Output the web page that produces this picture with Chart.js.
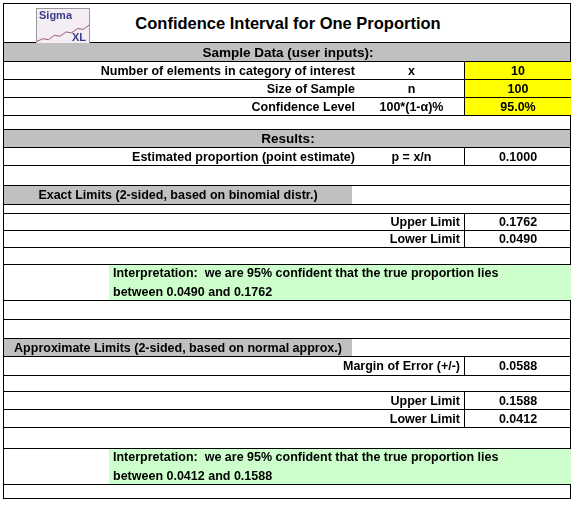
<!DOCTYPE html>
<html><head><meta charset="utf-8">
<script src="https://cdn.jsdelivr.net/npm/chart.js@4"></script>
<style>
body{margin:0;background:#fff;font-family:"Liberation Sans",Arial,sans-serif;font-weight:bold;font-size:12.5px;color:#000}
#sheet{position:absolute;left:3px;top:3px;width:568px;height:496px;border:1px solid #000;box-sizing:border-box}
.row{position:absolute;left:0;width:100%;border-bottom:1px solid #000;box-sizing:border-box}
.c{position:absolute;top:0;height:100%;display:flex;align-items:center;box-sizing:border-box}
.r{justify-content:flex-end;padding-right:4px}
.m{justify-content:center}
.gray{background:#c0c0c0}
.yel{background:#ffff00;border-left:1px solid #000}
.box{border-left:1px solid #000}
.green{background:#ccffcc;align-items:flex-start;flex-direction:column;justify-content:center;padding-left:4px;line-height:19px}
#logo{position:absolute;left:32px;top:4px;width:52px;height:34px;border:1px solid #999;background:#f4eef4}
</style></head><body>
<div id="sheet"></div>
<script>
const title = "Confidence Interval for One Proportion";
const inputLabels = ["Number of elements in category of interest", "Size of Sample", "Confidence Level"];
const inputSymbols = ["x", "n", "100*(1-\u03b1)%"];
const inputValues = ["10", "100", "95.0%"];
const pointEstimate = "0.1000";
const exactLimits = ["0.1762", "0.0490"];
const approxMargin = "0.0588";
const approxLimits = ["0.1588", "0.0412"];
const logoCurve = [2, 5, 4, 9, 8, 13, 12, 17, 16, 21];

const sheet = document.getElementById('sheet');
function row(top, h, cls) {
  const d = document.createElement('div');
  d.className = 'row ' + (cls || '');
  d.style.top = top + 'px'; d.style.height = h + 'px';
  sheet.appendChild(d); return d;
}
function cell(r, left, width, text, cls) {
  const d = document.createElement('div');
  d.className = 'c ' + (cls || '');
  d.style.left = left + 'px'; d.style.width = width + 'px';
  d.innerHTML = text; r.appendChild(d); return d;
}

let t = row(0, 39);
cell(t, 0, 568, title, 'm').style.fontSize = '16.5px';
const logo = document.createElement('div'); logo.id = 'logo';
logo.innerHTML = '<canvas id="lc" style="position:absolute;left:0;top:0"></canvas>' +
  '<span style="position:absolute;left:2px;top:0;color:#3a3a8a;font-size:11px">Sigma</span>' +
  '<span style="position:absolute;right:3px;bottom:0;color:#3a3a8a;font-size:11px">XL</span>';
t.appendChild(logo);

let r = row(39, 19, 'gray'); cell(r, 0, 568, 'Sample Data (user inputs):', 'm').style.fontSize = '13.5px';
let y = 58;
inputLabels.forEach((lab, i) => {
  r = row(y, 18);
  cell(r, 0, 355, lab, 'r');
  cell(r, 355, 105, inputSymbols[i], 'm');
  cell(r, 460, 107, inputValues[i], 'm yel');
  y += 18;
});
row(y, 14); y += 14;
r = row(y, 18, 'gray'); cell(r, 0, 568, 'Results:', 'm').style.fontSize = '13.5px'; y += 18;
r = row(y, 18); cell(r, 0, 355, 'Estimated proportion (point estimate)', 'r');
cell(r, 355, 105, 'p = x/n', 'm'); cell(r, 460, 107, pointEstimate, 'm box'); y += 18;
row(y, 20); y += 20;
r = row(y, 19); cell(r, 0, 348, 'Exact Limits (2-sided, based on binomial distr.)', 'm gray'); y += 19;
row(y, 9); y += 9;
['Upper Limit', 'Lower Limit'].forEach((lab, i) => {
  r = row(y, 17); cell(r, 0, 460, lab, 'r'); cell(r, 460, 107, exactLimits[i], 'm box'); y += 17;
});
row(y, 17); y += 17;
r = row(y, 36);
cell(r, 105, 462, 'Interpretation:&nbsp; we are 95% confident that the true proportion lies<br>between ' + exactLimits[1] + ' and ' + exactLimits[0], 'green');
y += 36;
row(y, 19); y += 19;
row(y, 19); y += 19;
r = row(y, 18); cell(r, 0, 348, 'Approximate Limits (2-sided, based on normal approx.)', 'm gray'); y += 18;
r = row(y, 19); cell(r, 0, 460, 'Margin of Error (+/-)', 'r'); cell(r, 460, 107, approxMargin, 'm box'); y += 19;
row(y, 16); y += 16;
['Upper Limit', 'Lower Limit'].forEach((lab, i) => {
  r = row(y, 18); cell(r, 0, 460, lab, 'r'); cell(r, 460, 107, approxLimits[i], 'm box'); y += 18;
});
row(y, 21); y += 21;
r = row(y, 36);
cell(r, 105, 462, 'Interpretation:&nbsp; we are 95% confident that the true proportion lies<br>between ' + approxLimits[1] + ' and ' + approxLimits[0], 'green');

const lc = document.getElementById('lc');
lc.width = 52; lc.height = 34;
new Chart(lc.getContext('2d'), {
  type: 'line',
  data: { labels: logoCurve.map((v, i) => i), datasets: [{ data: logoCurve, borderColor: '#9a5a7a', borderWidth: 1, pointRadius: 0, fill: false }] },
  options: { responsive: false, animation: false, plugins: { legend: { display: false }, tooltip: { enabled: false } },
    scales: { x: { display: false }, y: { display: false } } }
});
</script>
</body></html>
